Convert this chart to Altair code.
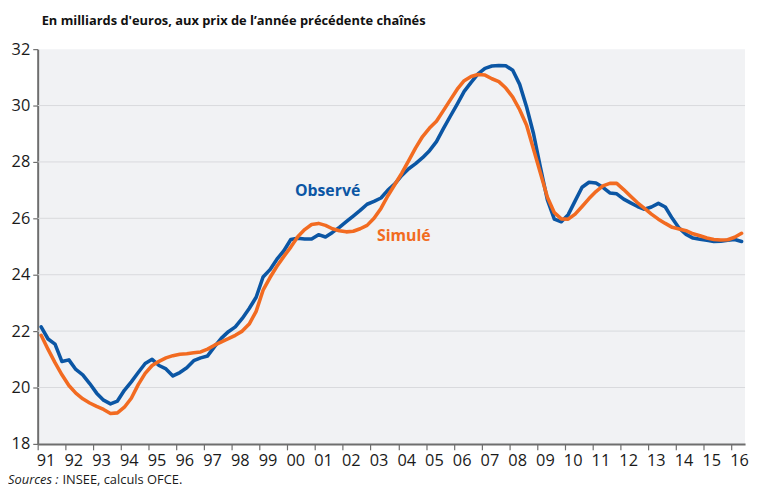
import altair as alt
import pandas as pd

# ---------------- data ----------------
start_year = 1991
end_domain = 2016.5
x_tick_years = list(range(1991, 2017))
y_ticks = [18, 20, 22, 24, 26, 28, 30, 32]
grid_values = [20, 22, 24, 26, 28, 30]

# quarterly values, 1991Q1 .. 2016Q2
observe = [
    22.15, 21.72, 21.54, 20.92,   # 1991
    20.98, 20.64, 20.45, 20.14,   # 1992
    19.80, 19.55, 19.42, 19.52,   # 1993
    19.90, 20.20, 20.53, 20.85,   # 1994
    21.00, 20.78, 20.66, 20.41,   # 1995
    20.53, 20.70, 20.95, 21.05,   # 1996
    21.12, 21.45, 21.75, 21.98,   # 1997
    22.15, 22.45, 22.80, 23.20,   # 1998
    23.92, 24.18, 24.55, 24.85,   # 1999
    25.25, 25.29, 25.27, 25.27,   # 2000
    25.42, 25.34, 25.50, 25.68,   # 2001
    25.88, 26.08, 26.28, 26.50,   # 2002
    26.60, 26.72, 27.00, 27.22,   # 2003
    27.52, 27.76, 27.94, 28.15,   # 2004
    28.40, 28.72, 29.18, 29.62,   # 2005
    30.05, 30.50, 30.82, 31.12,   # 2006
    31.32, 31.40, 31.42, 31.41,   # 2007
    31.25, 30.75, 29.95, 29.00,   # 2008
    27.80, 26.65, 25.97, 25.88,   # 2009
    26.13, 26.62, 27.10, 27.28,   # 2010
    27.25, 27.10, 26.90, 26.87,   # 2011
    26.68, 26.55, 26.42, 26.32,   # 2012
    26.40, 26.53, 26.40, 26.00,   # 2013
    25.65, 25.43, 25.30, 25.26,   # 2014
    25.22, 25.18, 25.19, 25.22,   # 2015
    25.25, 25.18,                 # 2016
]

simule = [
    21.85, 21.35, 20.88, 20.45,   # 1991
    20.07, 19.80, 19.60, 19.45,   # 1992
    19.33, 19.22, 19.08, 19.10,   # 1993
    19.30, 19.62, 20.10, 20.50,   # 1994
    20.78, 20.93, 21.05, 21.13,   # 1995
    21.18, 21.20, 21.23, 21.26,   # 1996
    21.36, 21.50, 21.62, 21.73,   # 1997
    21.85, 22.00, 22.25, 22.70,   # 1998
    23.45, 23.90, 24.30, 24.65,   # 1999
    24.98, 25.35, 25.60, 25.78,   # 2000
    25.82, 25.75, 25.63, 25.56,   # 2001
    25.52, 25.54, 25.63, 25.75,   # 2002
    26.00, 26.35, 26.80, 27.20,   # 2003
    27.60, 28.05, 28.50, 28.90,   # 2004
    29.20, 29.44, 29.82, 30.20,   # 2005
    30.58, 30.88, 31.03, 31.10,   # 2006
    31.08, 30.95, 30.85, 30.62,   # 2007
    30.30, 29.85, 29.30, 28.45,   # 2008
    27.60, 26.75, 26.20, 25.98,   # 2009
    25.97, 26.15, 26.42, 26.70,   # 2010
    26.95, 27.15, 27.24, 27.24,   # 2011
    27.02, 26.78, 26.55, 26.35,   # 2012
    26.15, 25.97, 25.82, 25.68,   # 2013
    25.62, 25.56, 25.45, 25.38,   # 2014
    25.30, 25.25, 25.23, 25.24,   # 2015
    25.33, 25.47,                 # 2016
]

series_names = ["Observé", "Simulé"]
series_colors = ["#0b56a4", "#f26b21"]
label_t = [2001.45, 2004.2]
label_v = [26.98, 25.37]

title_text = "En milliards d'euros, aux prix de l\u2019année précédente chaînés"
source_italic = "Sources :"
source_rest = "INSEE, calculs OFCE."

# ---------------- build ----------------
n = len(observe)
t = [start_year + (i + 0.5) / 4 for i in range(n)]
df = pd.DataFrame({"t": t, "obs": observe, "sim": simule})
grid_df = pd.DataFrame({"g": grid_values})
lab_df = pd.DataFrame({"t": label_t, "v": label_v, "txt": series_names, "col": series_colors})
one = pd.DataFrame({"a": [0]})

W, H = 715, 399
FONT = "Open Sans"
AXIS_COLOR = "#6e6e6e"
TEXT_COLOR = "#1a1a1a"

xscale = alt.Scale(domain=[start_year, end_domain], nice=False, zero=False)
yscale = alt.Scale(domain=[18, 32], nice=False, zero=False)

x_axis = alt.Axis(
    values=x_tick_years, format="d", labelExpr="slice(datum.label, 2)",
    labelOffset=8, labelAlign="center", labelOverlap=False, labelBound=False,
    labelFlush=False, labelFont=FONT, labelFontSize=16.5, labelColor=TEXT_COLOR,
    labelPadding=3, domain=True, domainColor=AXIS_COLOR, domainWidth=2,
    ticks=True, tickColor=AXIS_COLOR, tickWidth=1.2, tickSize=6, grid=False, title=None,
)
y_axis = alt.Axis(
    values=y_ticks, format="d", labelFont=FONT, labelFontSize=16.5,
    labelColor=TEXT_COLOR, labelPadding=3, labelOverlap=False, labelFlush=False,
    domain=True, domainColor=AXIS_COLOR, domainWidth=2,
    ticks=True, tickColor=AXIS_COLOR, tickWidth=1.2, tickSize=5, grid=False, title=None,
)

X = lambda f: alt.X(f, scale=xscale, axis=x_axis)
Y = lambda f: alt.Y(f, scale=yscale, axis=y_axis)

grid = alt.Chart(grid_df).mark_rule(color="#d9dadd", strokeWidth=1).encode(
    y=Y("g:Q")
)

line_obs = alt.Chart(df).mark_line(
    color=series_colors[0], strokeWidth=3.6, strokeJoin="round", strokeCap="round"
).encode(x=X("t:Q"), y=Y("obs:Q"))

line_sim = alt.Chart(df).mark_line(
    color=series_colors[1], strokeWidth=3.6, strokeJoin="round", strokeCap="round"
).encode(x=X("t:Q"), y=Y("sim:Q"))

labels = alt.Chart(lab_df).mark_text(
    font=FONT, fontSize=16, fontWeight="bold", align="center", baseline="middle"
).encode(
    x=X("t:Q"),
    y=Y("v:Q"),
    text="txt:N",
    color=alt.Color("col:N", scale=None, legend=None),
)

title = alt.Chart(one).mark_text(
    font=FONT, fontSize=13, fontWeight="bold", color="#111111",
    align="left", baseline="alphabetic"
).encode(x=alt.value(4), y=alt.value(-24), text=alt.value(title_text))

src1 = alt.Chart(one).mark_text(
    font=FONT, fontSize=13, fontStyle="italic", color=TEXT_COLOR,
    align="left", baseline="alphabetic"
).encode(x=alt.value(-30), y=alt.value(H + 41), text=alt.value(source_italic))
src2 = alt.Chart(one).mark_text(
    font=FONT, fontSize=13, color=TEXT_COLOR,
    align="left", baseline="alphabetic"
).encode(x=alt.value(25), y=alt.value(H + 41), text=alt.value(source_rest))

chart = alt.layer(grid, line_obs, line_sim, labels, title, src1, src2).properties(
    width=W, height=H,
    padding={"left": 30, "top": 39, "right": 5, "bottom": 43},
    autosize=alt.AutoSizeParams(type="none"),
).configure_view(fill="#f1f2f4", stroke=None)

chart.save("out.html", embed_options={"renderer": "svg", "actions": False})
